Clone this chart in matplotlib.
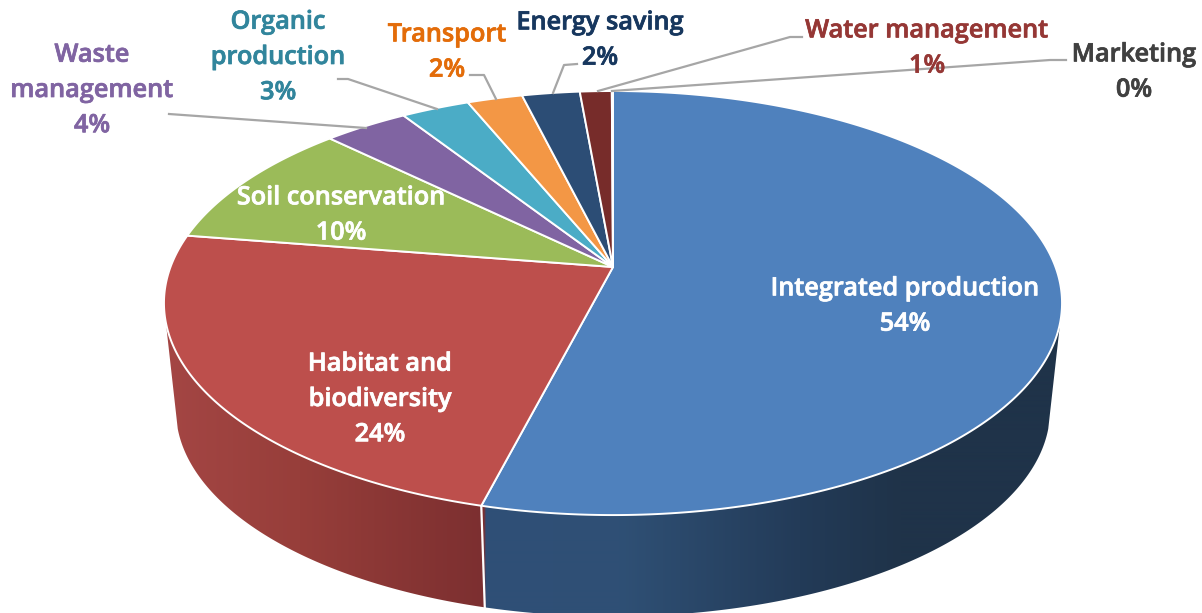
import numpy as np
import matplotlib
matplotlib.use("Agg")
import matplotlib.pyplot as plt
import matplotlib.patheffects as pe
from matplotlib.patches import Polygon
from matplotlib.colors import to_rgb

# ---- data -------------------------------------------------------------
categories = ["Integrated production", "Habitat and\nbiodiversity", "Soil conservation",
              "Waste\nmanagement", "Organic\nproduction", "Transport",
              "Energy saving", "Water management", "Marketing"]
values = [54.0, 23.5, 9.8, 3.6, 2.9, 2.35, 2.45, 1.35, 0.05]
pct_labels = ["54%", "24%", "10%", "4%", "3%", "2%", "2%", "1%", "0%"]

# ---- styles -----------------------------------------------------------
top_colors = ["#4f81bd", "#bd4f4c", "#9bbb59", "#8064a2", "#4bacc6",
              "#f39745", "#2c4d75", "#772c2a", "#5f5f5f"]
label_colors = ["white", "white", "white", "#8064a2", "#31859c",
                "#e36c09", "#17375e", "#953735", "#404040"]
label_pos = [(905, 306.5), (380, 399.5), (341, 215.5), (92, 90.5), (278, 57.5),
             (447, 52.5), (600, 40.5), (927, 48.5), (1134, 72.5)]
leaders = {3: [(169, 114), (366, 128)],
           4: [(338, 79), (348, 79), (437, 109)],
           5: [(470, 75), (484, 75), (496, 99)],
           6: [(577, 64), (564, 65), (553, 93)],
           7: [(802, 37), (790, 37), (598, 91)],
           8: [(1066, 60), (1050, 60), (612, 91)]}
# side shading: colour stops against pixel x
side_x = [165, 300, 484, 486, 620, 800, 900, 1063]
side_c = ["#a44644", "#973e3a", "#7c2f30", "#2f4f77", "#2f5075", "#233b58", "#1f3349", "#1f3349"]

# perspective projection of the unit disc to the page
CX, K = 613.0, 0.17
TOP = dict(a=442.5, b=205.9, y0=267.0)
BOT = dict(a=430.7, b=200.4, y0=375.0)


def project(theta, r, p):
    """theta clockwise from 12 o'clock, r radial fraction."""
    x, y = r * np.sin(theta), r * np.cos(theta)
    d = 1 + K * y
    return CX + p["a"] * x / d, p["y0"] - p["b"] * y / d


plt.rcParams["font.family"] = ["Open Sans", "DejaVu Sans"]
fig = plt.figure(figsize=(12.02, 6.13), dpi=100)
ax = fig.add_axes([0, 0, 1, 1])
ax.set_xlim(0, 1202)
ax.set_ylim(613, 0)
ax.axis("off")

edges = np.cumsum([0] + values) / sum(values) * 2 * np.pi

# side wall: horizontal gradient clipped to the wall outline
stops = np.array([to_rgb(c) for c in side_c])
xs_img = np.linspace(150, 1080, 1860)
grad = np.stack([np.interp(xs_img, side_x, stops[:, i]) for i in range(3)], axis=-1)[None, :, :]
th = np.linspace(np.pi / 2 + 0.26, 3 * np.pi / 2 - 0.26, 400)
tx, ty = project(th, 1, TOP)
bx, by = project(th, 1, BOT)
wall = Polygon(np.c_[np.r_[tx, bx[::-1]], np.r_[ty, by[::-1]]], closed=True,
               facecolor="none", edgecolor="none", transform=ax.transData)
ax.add_patch(wall)
im = ax.imshow(grad, extent=(150, 1080, 620, 250), aspect="auto", interpolation="bilinear", zorder=1)
im.set_clip_path(wall)
ax.set_xlim(0, 1202)
ax.set_ylim(613, 0)

# white seam between the two front walls
seam = edges[1]
sx0, sy0 = project(seam, 1, TOP)
sx1, sy1 = project(seam, 1, BOT)
ax.plot([sx0, sx1], [sy0, sy1], color="white", lw=1.6, zorder=2)

# top face
for i, v in enumerate(values):
    t = np.linspace(edges[i], edges[i + 1], max(3, int(v * 12)))
    px, py = project(t, 1, TOP)
    cx, cy = project(0.0, 0.0, TOP)
    ax.fill(np.r_[cx, px], np.r_[cy, py], facecolor=top_colors[i], edgecolor="white",
            linewidth=1.4, joinstyle="round", zorder=3)

# leader lines
for pts in leaders.values():
    xs, ys = zip(*pts)
    ax.plot(xs, ys, color="#a6a6a6", lw=1.6, zorder=4, solid_joinstyle="round")

# labels
for name, pct, col, (x, y) in zip(categories, pct_labels, label_colors, label_pos):
    ax.text(x, y, f"{name}\n{pct}", color=col, fontsize=18.2, fontweight="semibold",
            ha="center", va="center", linespacing=1.54, zorder=5,
            path_effects=[pe.withStroke(linewidth=0.5, foreground=col)])

fig.savefig("out.png", dpi=100)
